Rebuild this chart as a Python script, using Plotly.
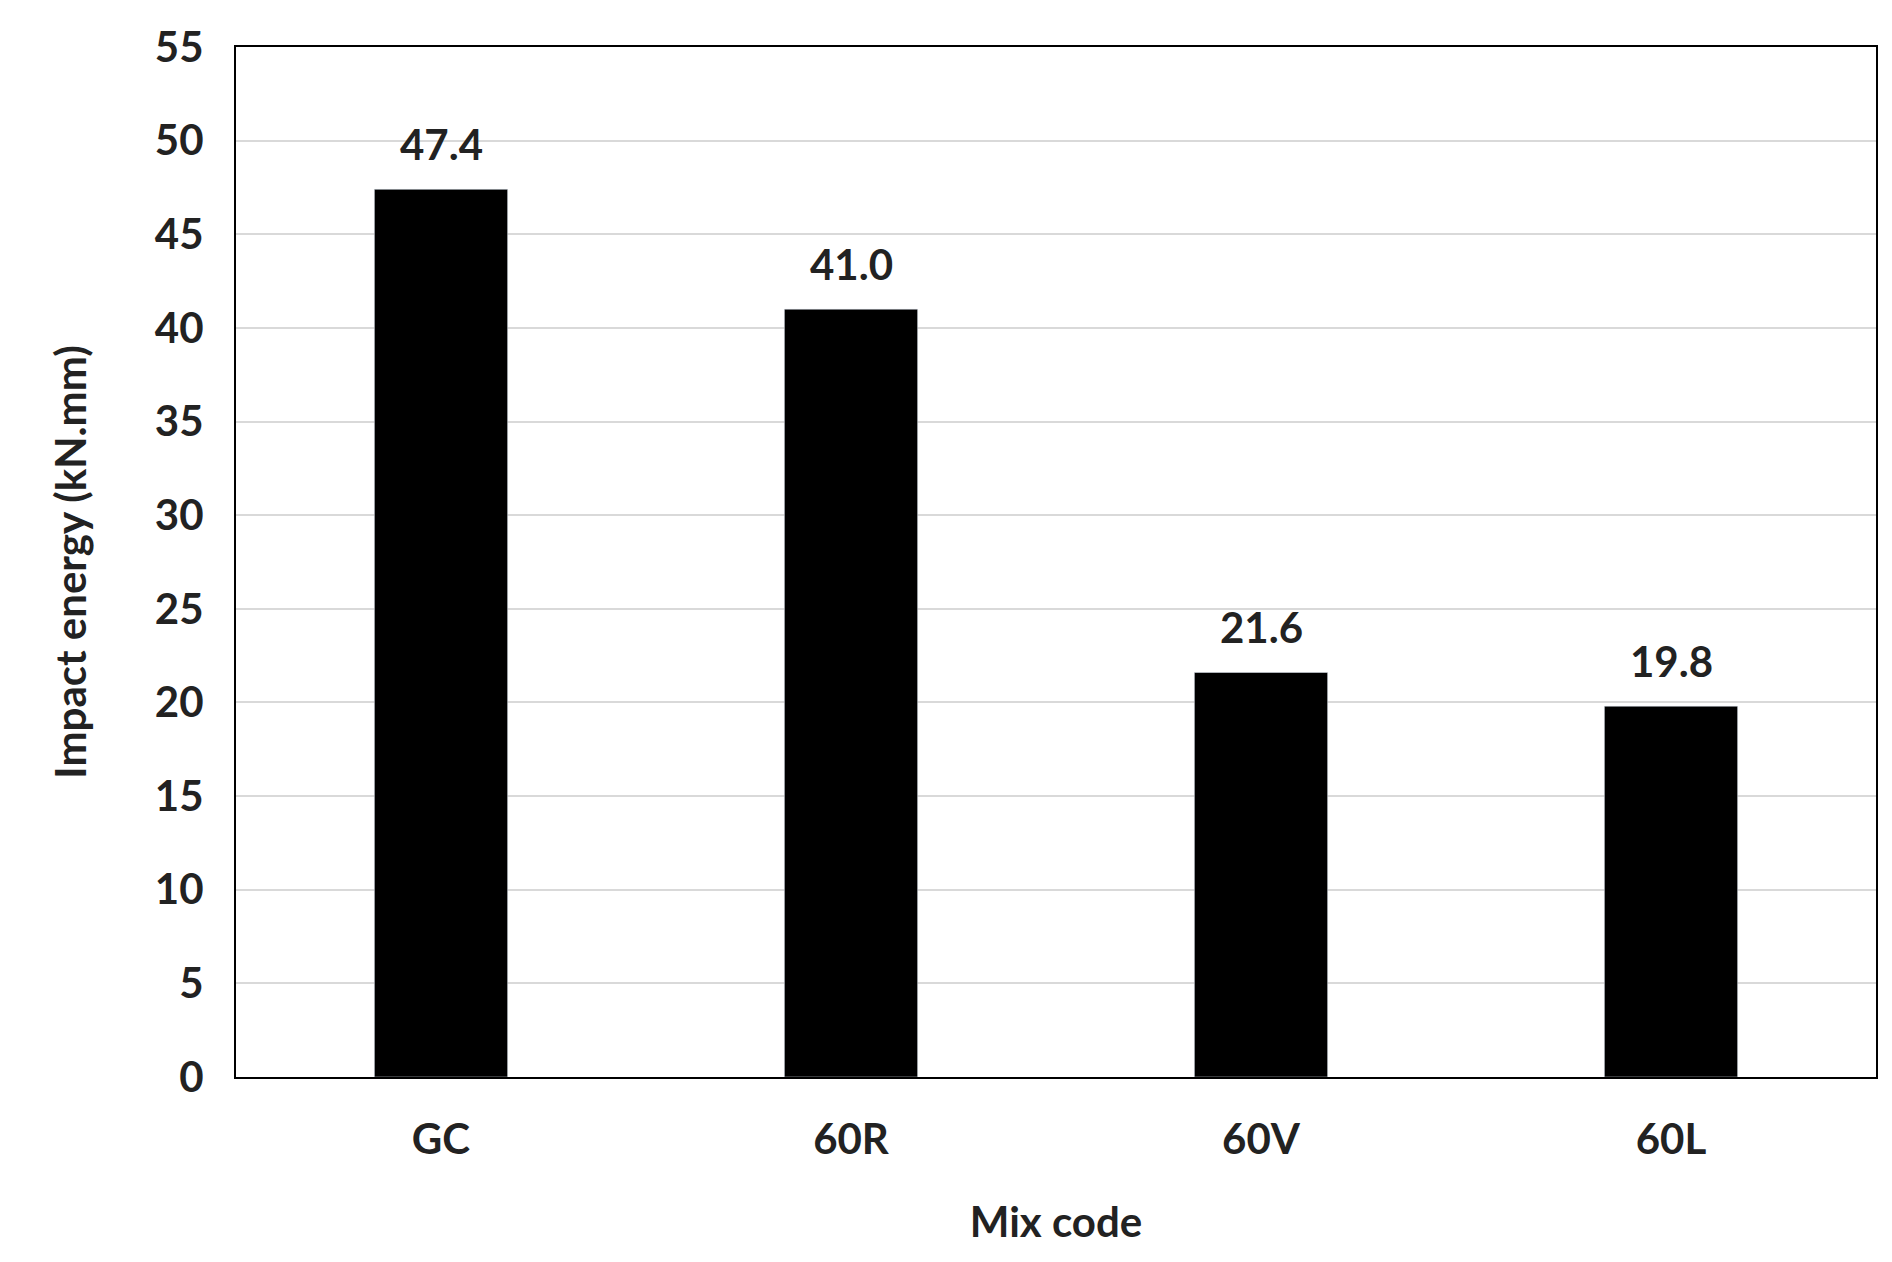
import plotly.graph_objects as go

mix_codes = ["GC", "60R", "60V", "60L"]
impact_energy = [47.4, 41.0, 21.6, 19.8]
value_labels = ["47.4", "41.0", "21.6", "19.8"]

fnt = dict(family="Lato, Open Sans, sans-serif", size=42, color="#222")

fig = go.Figure()
fig.add_trace(go.Bar(
    x=mix_codes, y=impact_energy, width=0.325,
    marker=dict(color="black"),
))

for code, val, lab in zip(mix_codes, impact_energy, value_labels):
    fig.add_annotation(x=code, y=val, text=f"<b>{lab}</b>", showarrow=False,
                       yanchor="bottom", yshift=18, font=fnt)

fig.update_layout(
    width=1892, height=1262,
    margin=dict(l=228, r=24, t=39, b=193),
    plot_bgcolor="white", paper_bgcolor="white",
    font=fnt, showlegend=False,
    xaxis=dict(
        title=dict(text="<b>Mix code</b>", font=fnt, standoff=45),
        showline=True, linecolor="black", linewidth=2, mirror=True,
        tickfont=fnt, ticks="", ticklabelstandoff=25,
        tickvals=mix_codes, ticktext=[f"<b>{c}</b>" for c in mix_codes],
    ),
    yaxis=dict(
        title=dict(text="<b>Impact energy (kN.mm)</b>", font=fnt, standoff=55),
        range=[0, 55], dtick=5,
        showline=True, linecolor="black", linewidth=2, mirror=True,
        gridcolor="#d9d9d9", gridwidth=2, zeroline=False,
        tickfont=fnt, ticks="", ticklabelstandoff=22,
        tickformat="d", tickprefix="<b>", ticksuffix="</b>",
    ),
)

fig.write_html("out.html")
